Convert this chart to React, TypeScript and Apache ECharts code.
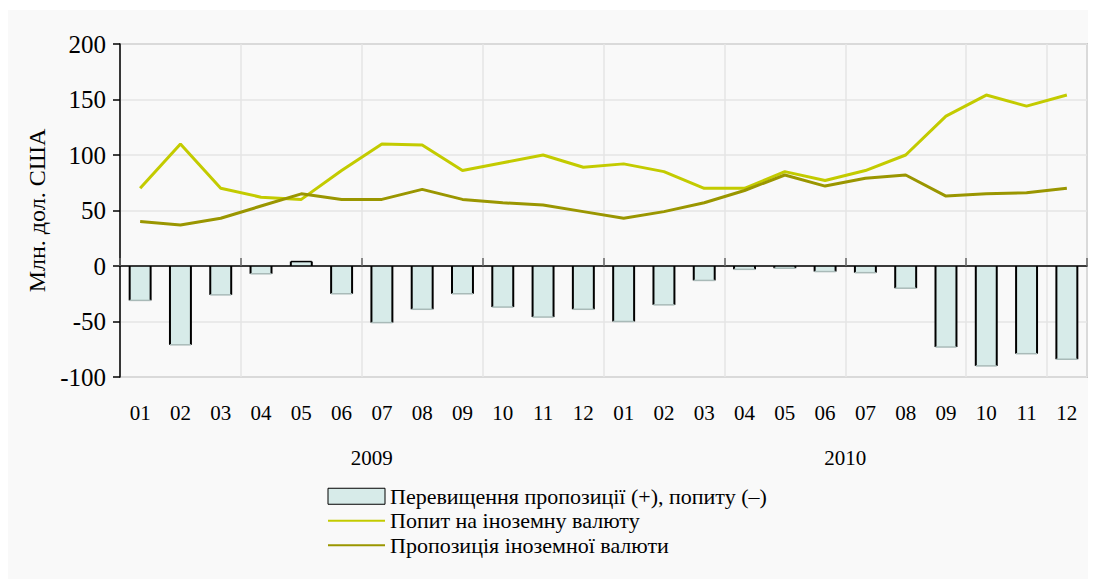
import React, { useEffect, useRef } from "react";
import * as echarts from "echarts";

const months = ["01","02","03","04","05","06","07","08","09","10","11","12","01","02","03","04","05","06","07","08","09","10","11","12"];
const years = ["2009", "2010"];
const demand = [70, 110, 70, 62, 60, 86, 110, 109, 86, 93, 100, 89, 92, 85, 70, 70, 85, 77, 86, 100, 135, 154, 144, 154];
const supply = [40, 37, 43, 54, 65, 60, 60, 69, 60, 57, 55, 49, 43, 49, 57, 68, 82, 72, 79, 82, 63, 65, 66, 70];
const balance = [-31, -71, -26, -7, 4, -25, -51, -39, -25, -37, -46, -39, -50, -35, -13, -3, -2, -5, -6, -20, -73, -90, -79, -84];

const nameBalance = "Перевищення пропозиції (+), попиту (–)";
const nameDemand = "Попит на іноземну валюту";
const nameSupply = "Пропозиція іноземної валюти";
const yName = "Млн. дол. США";

const FONT = "Liberation Serif";

export default function App() {
  const ref = useRef<HTMLDivElement>(null);
  useEffect(() => {
    if (!ref.current) return;
    const chart = echarts.init(ref.current, null, { renderer: "svg" });
    const grid = { left: 112, right: 9, top: 34, bottom: 202 };
    const hideSymbol = { color: "transparent", borderWidth: 0, opacity: 0 };
    chart.setOption({
      animation: false,
      backgroundColor: "#f9f9f9",
      textStyle: { fontFamily: FONT },
      grid: { ...grid, show: true, borderColor: "#a6a6a6", borderWidth: 1.5, backgroundColor: "transparent" },
      legend: {
        orient: "vertical",
        left: 319,
        top: 474,
        padding: 0,
        itemWidth: 57,
        itemHeight: 16,
        itemGap: 0,
        textStyle: { fontFamily: FONT, fontSize: 22, color: "#000", lineHeight: 24.5 },
        data: [
          { name: nameBalance, icon: "rect", itemStyle: { color: "#d7ebe9", borderColor: "#000", borderWidth: 1 } },
          { name: nameDemand, itemStyle: hideSymbol },
          { name: nameSupply, itemStyle: hideSymbol },
        ],
      },
      xAxis: [
        {
          type: "category",
          data: months,
          position: "bottom",
          axisLine: { show: false, onZero: false },
          axisTick: { show: false },
          axisLabel: { fontFamily: FONT, fontSize: 21, color: "#000", margin: 25, interval: 0 },
          splitLine: { show: true, interval: 2, lineStyle: { color: "#e4e4e4", width: 1.5 } },
        },
        {
          type: "category",
          data: months,
          axisLine: { show: true, onZero: true, lineStyle: { color: "#000", width: 1.5 } },
          axisTick: { show: true, interval: 2, length: 8, inside: false, lineStyle: { color: "#666", width: 1.5 } },
          axisLabel: { show: false },
          splitLine: { show: false },
          z: 5,
        },
        {
          type: "category",
          data: [{ value: years[0], textStyle: { padding: [0, 0, 0, 20] } }, years[1]],
          position: "bottom",
          offset: 45,
          axisLine: { show: false, onZero: false },
          axisTick: { show: false },
          axisLabel: { fontFamily: FONT, fontSize: 21, color: "#000", margin: 25 },
          splitLine: { show: false },
        },
      ],
      yAxis: {
        type: "value",
        min: -100,
        max: 200,
        interval: 50,
        name: yName,
        nameLocation: "middle",
        nameGap: 62,
        nameTextStyle: { fontFamily: FONT, fontSize: 24, color: "#000" },
        axisLine: { show: true, lineStyle: { color: "#000", width: 1.5 } },
        axisTick: { show: true, length: 7, lineStyle: { color: "#000", width: 1.5 } },
        axisLabel: { fontFamily: FONT, fontSize: 25, color: "#000", margin: 14 },
        splitLine: { show: true, lineStyle: { color: "#e4e4e4", width: 1.5 } },
      },
      series: [
        {
          name: nameBalance,
          type: "custom",
          xAxisIndex: 0,
          z: 1,
          itemStyle: { color: "#d7ebe9", borderColor: "#000", borderWidth: 1 },
          encode: { x: 0, y: 1 },
          data: balance.map((v, i) => [i, v]),
          renderItem: (params: any, api: any) => {
            const xi = api.value(0);
            const v = api.value(1);
            const top = api.coord([xi, v]);
            const base = api.coord([xi, 0]);
            const w = api.size([1, 0])[0] * 0.52;
            const x0 = top[0] - w / 2;
            const y0 = Math.min(top[1], base[1]);
            const h = Math.abs(base[1] - top[1]);
            const farY = top[1];
            return {
              type: "group",
              children: [
                { type: "rect", shape: { x: x0, y: y0, width: w, height: h }, style: { fill: "#d7ebe9" } },
                { type: "line", shape: { x1: x0, y1: y0, x2: x0, y2: y0 + h }, style: { stroke: "#000", lineWidth: 2 } },
                { type: "line", shape: { x1: x0 + w, y1: y0, x2: x0 + w, y2: y0 + h }, style: { stroke: "#000", lineWidth: 2 } },
                { type: "line", shape: { x1: x0, y1: farY, x2: x0 + w, y2: farY }, style: { stroke: v > 0 ? "#000" : "#a9bab8", lineWidth: 1.5 } },
              ],
            };
          },
        },
        {
          name: nameDemand,
          type: "line",
          xAxisIndex: 0,
          data: demand,
          symbol: "none",
          z: 3,
          itemStyle: { color: "#c3cb00" },
          lineStyle: { color: "#c3cb00", width: 3 },
        },
        {
          name: nameSupply,
          type: "line",
          xAxisIndex: 0,
          data: supply,
          symbol: "none",
          z: 3,
          itemStyle: { color: "#9a9600" },
          lineStyle: { color: "#9a9600", width: 3 },
        },
      ],
    });
    return () => chart.dispose();
  }, []);
  return (
    <div style={{ paddingTop: 2 }}>
      <div ref={ref} style={{ width: 1088, height: 569 }} />
    </div>
  );
}
